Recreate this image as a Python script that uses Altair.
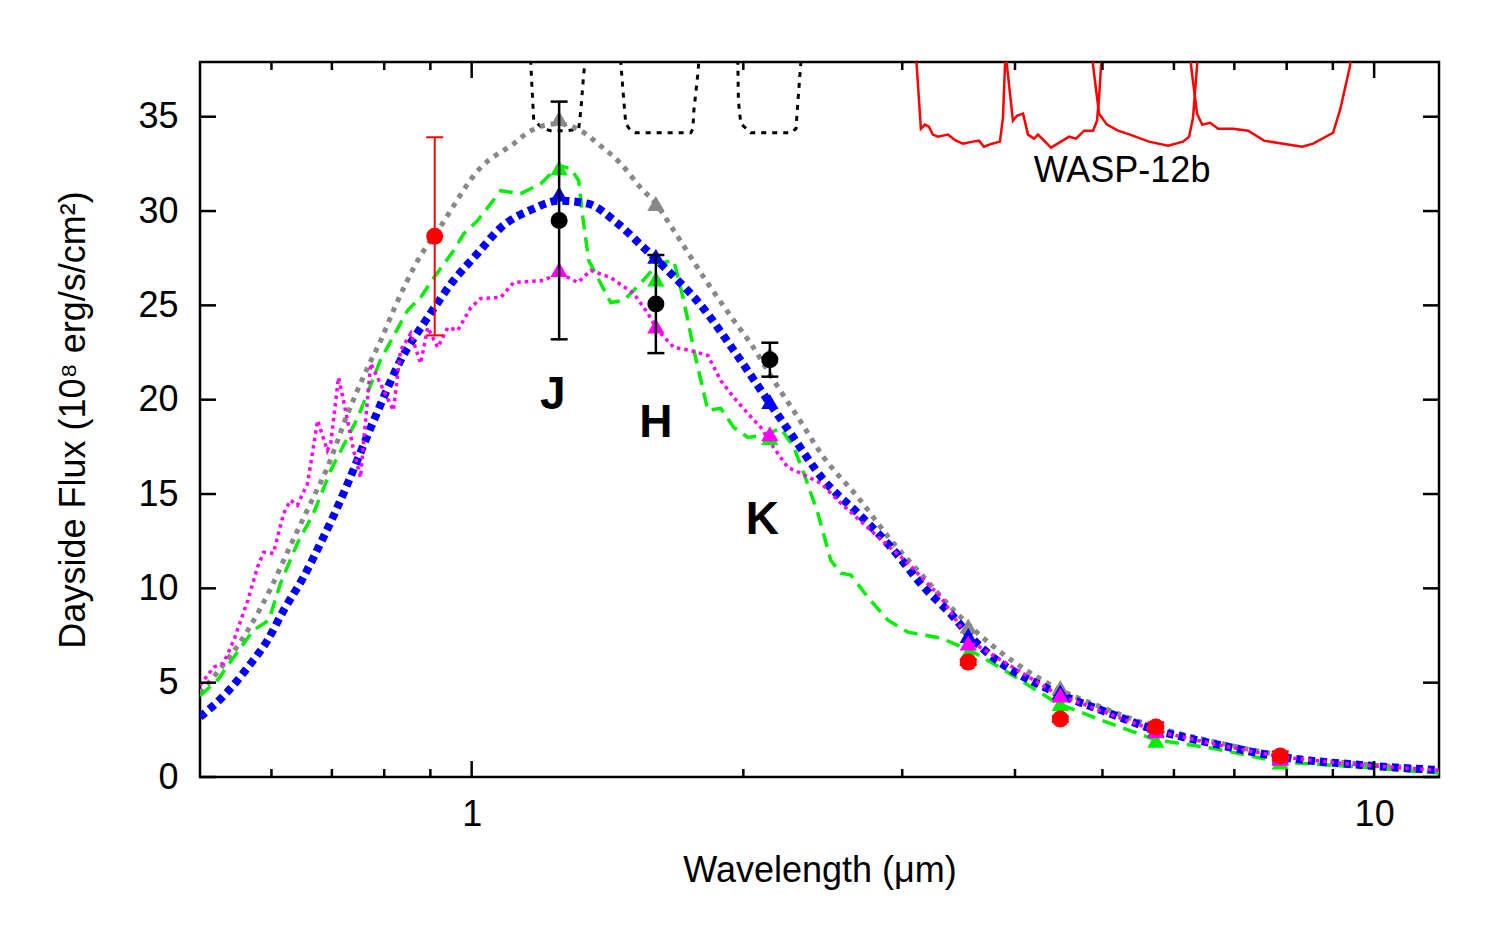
import altair as alt
import pandas as pd

# ---------------- data (wavelength in micron, flux in 1e8 erg/s/cm^2) ----------------
gray_wl = [0.500, 0.527, 0.565, 0.599, 0.630, 0.663, 0.692, 0.729, 0.767, 0.793, 0.819, 0.878, 0.917,
           1.023, 1.113, 1.163, 1.245, 1.321, 1.380, 1.463, 1.539, 1.600, 1.675, 1.827, 1.952, 2.038,
           2.161, 2.299, 2.456, 2.679, 2.915, 3.170, 3.422, 3.566, 4.452, 4.98, 5.732, 6.59, 7.887, 9.66, 11.8]
gray_flux = [4.45, 5.77, 7.78, 10.01, 12.29, 14.51, 16.41, 19.27, 21.71, 23.14, 24.73, 27.64, 28.96,
             32.30, 33.57, 34.26, 34.63, 34.26, 33.57, 32.51, 31.24, 30.39, 28.96, 26.16, 24.20, 22.98,
             21.02, 19.06, 16.94, 14.83, 12.55, 10.59, 8.84, 8.00, 4.71, 3.71, 2.65, 1.91, 1.16, 0.69, 0.41]

blue_wl = [0.500, 0.536, 0.565, 0.594, 0.619, 0.651, 0.680, 0.710, 0.729, 0.779, 0.834, 0.894, 0.955,
           1.015, 1.077, 1.172, 1.249, 1.345, 1.452, 1.551, 1.649, 1.795, 1.952, 2.129, 2.257, 2.456,
           2.679, 2.915, 3.170, 3.422, 3.566, 4.452, 4.98, 5.732, 6.59, 7.887, 9.66, 11.8]
blue_flux = [3.18, 4.50, 5.82, 7.25, 8.84, 10.59, 12.39, 14.30, 15.57, 18.90, 22.08, 24.36, 26.32,
             27.75, 29.12, 30.13, 30.55, 30.39, 29.33, 28.06, 26.85, 25.00, 22.61, 19.96, 18.21, 15.73,
             13.98, 12.18, 10.06, 8.47, 7.47, 4.45, 3.55, 2.49, 1.80, 1.06, 0.64, 0.37]

green_wl = [0.500, 0.523, 0.545, 0.573, 0.596, 0.614, 0.641, 0.668, 0.698, 0.748, 0.792, 0.849, 0.878,
            0.908, 0.955, 0.980, 1.015, 1.077, 1.133, 1.193, 1.249, 1.288, 1.314, 1.328, 1.348, 1.390,
            1.426, 1.474, 1.539, 1.608, 1.675, 1.718, 1.763, 1.827, 1.888, 1.952, 2.023, 2.107, 2.201,
            2.275, 2.334, 2.419, 2.500, 2.565, 2.632, 2.748, 2.892, 3.044, 3.311, 3.566, 3.859, 4.452,
            4.98, 5.732, 6.59, 7.887, 9.66, 11.8]
green_flux = [4.30, 5.14, 6.35, 7.78, 8.31, 10.27, 12.39, 13.98, 16.26, 19.06, 22.08, 24.73, 25.42,
              26.47, 27.90, 28.80, 29.49, 31.08, 30.92, 31.45, 32.41, 32.25, 31.61, 29.65, 27.37, 26.16,
              25.15, 25.26, 26.16, 27.22, 27.37, 25.26, 22.61, 19.43, 19.54, 18.53, 18.00, 18.11, 18.48,
              17.47, 16.10, 13.98, 11.49, 10.80, 10.70, 9.53, 8.31, 7.68, 7.36, 6.72, 5.77, 3.92,
              3.02, 1.96, 1.54, 0.79, 0.53, 0.21]

magenta_wl = [0.500, 0.518, 0.531, 0.545, 0.565, 0.579, 0.588, 0.603, 0.619, 0.630, 0.641, 0.658, 0.675,
              0.692, 0.698, 0.712, 0.721, 0.740, 0.753, 0.773, 0.799, 0.819, 0.834, 0.856, 0.878, 0.894,
              0.917, 0.941, 0.965, 0.998, 1.023, 1.077, 1.113, 1.202, 1.249, 1.311, 1.355, 1.426, 1.512,
              1.568, 1.608, 1.675, 1.749, 1.827, 1.888, 1.952, 2.023, 2.091, 2.161, 2.240, 2.316, 2.437,
              2.565, 2.791, 3.044, 3.311, 3.566, 4.452, 4.98, 5.732, 6.59, 7.887, 9.66, 11.8]
magenta_flux = [4.87, 5.82, 6.04, 7.25, 9.37, 11.12, 11.91, 11.86, 13.98, 14.67, 14.40, 15.57, 18.90,
                17.31, 17.69, 21.18, 19.96, 17.31, 15.88, 21.92, 20.49, 19.43, 22.61, 23.51, 21.92, 23.83,
                22.77, 23.83, 23.67, 24.89, 25.36, 25.42, 26.21, 26.32, 26.74, 26.21, 26.85, 26.47, 25.63,
                24.57, 23.67, 22.77, 22.61, 22.34, 21.02, 20.12, 19.27, 18.53, 17.47, 16.41, 16.10, 15.57,
                14.51, 12.92, 11.33, 9.53, 7.20, 4.39, 3.50, 2.44, 1.78, 1.06, 0.63, 0.36]

# band-integrated model values (triangles)
band_wl = [1.25, 1.6, 2.14, 3.55, 4.49, 5.73, 7.87]
gray_band = [34.9, 30.4, 22.4, 8.0, 4.75, 2.7, 1.15]
green_band = [32.3, 26.4, 18.0, 6.6, 3.9, 1.95, 0.8]
blue_band = [30.9, 27.6, 19.9, 7.5, 4.5, 2.5, 1.05]
magenta_band = [26.9, 23.9, 18.2, 7.1, 4.35, 2.45, 1.0]

# observations
jhk_wl = [1.25, 1.6, 2.14]
jhk_flux = [29.5, 25.07, 22.12]
jhk_err = [6.3, 2.6, 0.9]
red_wl = [0.91, 3.55, 4.49, 5.73, 7.87]
red_flux = [28.66, 6.09, 3.07, 2.65, 1.11]
red_err = [5.25, 0.15, 0.15, 0.25, 0.25]

# filter transmission profiles (drawn hanging from the top)
filt_j_wl = [1.160, 1.1626, 1.1716, 1.2017, 1.2236, 1.2777, 1.3142, 1.3210, 1.3310, 1.340]
filt_j_fl = [38.6, 37.86, 34.79, 34.36, 34.26, 34.26, 34.36, 35.32, 37.28, 38.6]
filt_h_wl = [1.460, 1.4630, 1.4742, 1.4817, 1.5008, 1.5197, 1.7494, 1.7584, 1.7628, 1.7810, 1.790]
filt_h_fl = [38.6, 37.86, 35.85, 34.63, 34.26, 34.15, 34.15, 34.36, 35.32, 37.28, 38.6]
filt_k_wl = [1.968, 1.9722, 1.975, 1.9870, 2.0280, 2.0383, 2.2573, 2.2875, 2.2992, 2.3160, 2.320]
filt_k_fl = [38.6, 37.86, 35.85, 34.63, 34.26, 34.15, 34.15, 34.36, 35.85, 37.86, 38.6]

irac1_wl = [3.098, 3.113, 3.146, 3.179, 3.211, 3.244, 3.286, 3.371, 3.441, 3.502, 3.593, 3.649, 3.695,
            3.772, 3.849, 3.879, 3.899, 3.909]
irac1_fl = [38.6, 37.70, 34.36, 34.58, 34.47, 34.05, 33.94, 34.05, 33.73, 33.57, 33.68, 33.73, 33.41,
            33.57, 33.68, 34.95, 37.70, 38.6]
irac2_wl = [3.909, 3.919, 3.979, 4.020, 4.083, 4.135, 4.199, 4.242, 4.385, 4.498, 4.592, 4.674, 4.771,
            4.882, 4.931, 4.957, 4.982, 4.995]
irac2_fl = [38.6, 37.70, 34.79, 35.05, 35.16, 34.05, 33.84, 34.05, 33.36, 33.68, 33.94, 33.84, 34.26,
            34.26, 34.79, 36.01, 37.70, 38.6]
irac3_wl = [4.869, 4.882, 4.957, 5.058, 5.202, 5.364, 5.631, 5.910, 6.141, 6.236, 6.300, 6.365, 6.381]
irac3_fl = [38.6, 37.70, 35.16, 34.58, 34.26, 34.05, 33.68, 33.46, 33.68, 33.94, 34.95, 37.70, 38.6]
irac4_wl = [6.252, 6.268, 6.365, 6.448, 6.581, 6.717, 6.979, 7.251, 7.551, 7.927, 8.322, 8.559, 9.006,
            9.169, 9.405, 9.429]
irac4_fl = [38.6, 37.70, 35.16, 34.58, 34.68, 34.36, 34.36, 34.26, 33.73, 33.57, 33.41, 33.57, 34.15,
            35.37, 37.70, 38.6]

band_labels = ["J", "H", "K"]
band_label_wl = [1.23, 1.60, 2.10]
band_label_fl = [20.23, 18.74, 13.61]
planet_label = ["WASP-12b"]
planet_label_wl = [5.256]
planet_label_fl = [32.14]

x_major_ticks = [1, 10]
x_minor_ticks = [0.6, 0.7, 0.8, 0.9, 2, 3, 4, 5, 6, 7, 8, 9]
y_ticks = [0, 5, 10, 15, 20, 25, 30, 35]

# ---------------- chart ----------------
W, H = 1239, 715
FONT = "Liberation Sans"

xscale = alt.Scale(type="log", domain=[0.5, 11.8], nice=False)
yscale = alt.Scale(domain=[0, 37.9], nice=False, zero=False)

xaxis = alt.Axis(values=x_major_ticks, format="~g", ticks=False, domain=False, grid=False,
                 labelFont=FONT, labelFontSize=36, labelColor="black", labelPadding=20,
                 title="Wavelength (μm)", titleFont=FONT, titleFontSize=36, titleFontWeight="normal",
                 titleColor="black", titlePadding=21)
yaxis = alt.Axis(values=y_ticks, ticks=False, domain=False, grid=False,
                 labelFont=FONT, labelFontSize=36, labelColor="black", labelPadding=22,
                 title="Dayside Flux (10⁸ erg/s/cm²)", titleFont=FONT, titleFontSize=36,
                 titleFontWeight="normal", titleColor="black", titlePadding=45)


def X(f):
    return alt.X(f"{f}:Q", scale=xscale, axis=xaxis)


def Y(f):
    return alt.Y(f"{f}:Q", scale=yscale, axis=yaxis)


def sdf(wl, fl, g="a"):
    return pd.DataFrame({"wl": wl, "flux": fl, "i": list(range(len(wl))), "g": g})


def curve(df, color, width, dash, interp="linear"):
    return alt.Chart(df).mark_line(color=color, strokeWidth=width, strokeDash=dash, clip=True,
                                   interpolate=interp, strokeCap="butt").encode(
        x=X("wl"), y=Y("flux"), order=alt.Order("i:Q"), detail="g:N")


filters_black = pd.concat([sdf(filt_j_wl, filt_j_fl, "J"), sdf(filt_h_wl, filt_h_fl, "H"),
                           sdf(filt_k_wl, filt_k_fl, "K")])
filters_red = pd.concat([sdf(irac1_wl, irac1_fl, "1"), sdf(irac2_wl, irac2_fl, "2"),
                         sdf(irac3_wl, irac3_fl, "3"), sdf(irac4_wl, irac4_fl, "4")])

layers = []
layers.append(alt.Chart(filters_black).mark_line(color="black", strokeWidth=3, strokeDash=[5, 6],
                                                  clip=True).encode(
    x=X("wl"), y=Y("flux"), order=alt.Order("i:Q"), detail="g:N"))
layers.append(alt.Chart(filters_red).mark_line(color="#ff0000", strokeWidth=2.5, clip=True).encode(
    x=X("wl"), y=Y("flux"), order=alt.Order("i:Q"), detail="g:N"))

layers.append(curve(sdf(gray_wl, gray_flux), "#888888", 5, [5, 6], "monotone"))
layers.append(curve(sdf(green_wl, green_flux), "#00ee00", 3.5, [14, 8]))
layers.append(curve(sdf(blue_wl, blue_flux), "#0000ff", 8, [7, 5], "monotone"))
layers.append(curve(sdf(magenta_wl, magenta_flux), "#ff00ff", 3.5, [3.5, 4]))


def tri(vals, color):
    df = pd.DataFrame({"wl": band_wl, "flux": vals})
    return alt.Chart(df).mark_point(shape="triangle-up", filled=True, size=300, color=color,
                                     opacity=1, strokeWidth=0, clip=True).encode(x=X("wl"), y=Y("flux"))


layers += [tri(gray_band, "#888888"), tri(green_band, "#00ee00"), tri(blue_band, "#0000ff"),
           tri(magenta_band, "#ff00ff")]


def observed(wl, fl, err, color, lw):
    df = pd.DataFrame({"wl": wl, "flux": fl,
                       "lo": [f - e for f, e in zip(fl, err)], "hi": [f + e for f, e in zip(fl, err)]})
    caps = pd.DataFrame({"wl": wl + wl, "cap": [f - e for f, e in zip(fl, err)] + [f + e for f, e in zip(fl, err)]})
    bars = alt.Chart(df).mark_rule(color=color, strokeWidth=lw).encode(x=X("wl"), y=Y("lo"), y2="hi:Q")
    capm = alt.Chart(caps).mark_tick(color=color, orient="horizontal", size=17, thickness=lw,
                                     opacity=1).encode(x=X("wl"), y=Y("cap"))
    dots = alt.Chart(df).mark_circle(color=color, size=290, opacity=1).encode(x=X("wl"), y=Y("flux"))
    return [bars, capm, dots]


layers += observed(jhk_wl, jhk_flux, jhk_err, "black", 2.5)
layers += observed(red_wl, red_flux, red_err, "#ff0000", 2)

lab_df = pd.DataFrame({"wl": band_label_wl, "flux": band_label_fl, "t": band_labels})
layers.append(alt.Chart(lab_df).mark_text(font=FONT, fontSize=46, fontWeight="bold", color="black",
                                          align="center", baseline="middle").encode(
    x=X("wl"), y=Y("flux"), text="t:N"))
pl_df = pd.DataFrame({"wl": planet_label_wl, "flux": planet_label_fl, "t": planet_label})
layers.append(alt.Chart(pl_df).mark_text(font=FONT, fontSize=36, color="black",
                                         align="center", baseline="middle").encode(
    x=X("wl"), y=Y("flux"), text="t:N"))

# inward ticks on all four sides (gnuplot style)
xmaj = pd.DataFrame({"t": x_major_ticks})
xmin = pd.DataFrame({"t": x_minor_ticks})
yt = pd.DataFrame({"t": y_ticks})
tk = dict(color="black", strokeWidth=2.5)
layers.append(alt.Chart(xmaj).mark_rule(**tk).encode(x=X("t"), y=alt.value(H), y2=alt.value(H - 16)))
layers.append(alt.Chart(xmaj).mark_rule(**tk).encode(x=X("t"), y=alt.value(0), y2=alt.value(16)))
layers.append(alt.Chart(xmin).mark_rule(**tk).encode(x=X("t"), y=alt.value(H), y2=alt.value(H - 8)))
layers.append(alt.Chart(xmin).mark_rule(**tk).encode(x=X("t"), y=alt.value(0), y2=alt.value(8)))
layers.append(alt.Chart(yt).mark_rule(**tk).encode(y=Y("t"), x=alt.value(0), x2=alt.value(16)))
layers.append(alt.Chart(yt).mark_rule(**tk).encode(y=Y("t"), x=alt.value(W), x2=alt.value(W - 16)))

chart = alt.layer(*layers).properties(
    width=W, height=H,
    padding={"left": 192, "top": 54, "right": 41, "bottom": 150},
    autosize=alt.AutoSizeParams(type="none"),
).configure(background="white").configure_view(stroke="black", strokeWidth=2.5)

chart.save("out.html", embed_options={"renderer": "svg", "actions": False})
